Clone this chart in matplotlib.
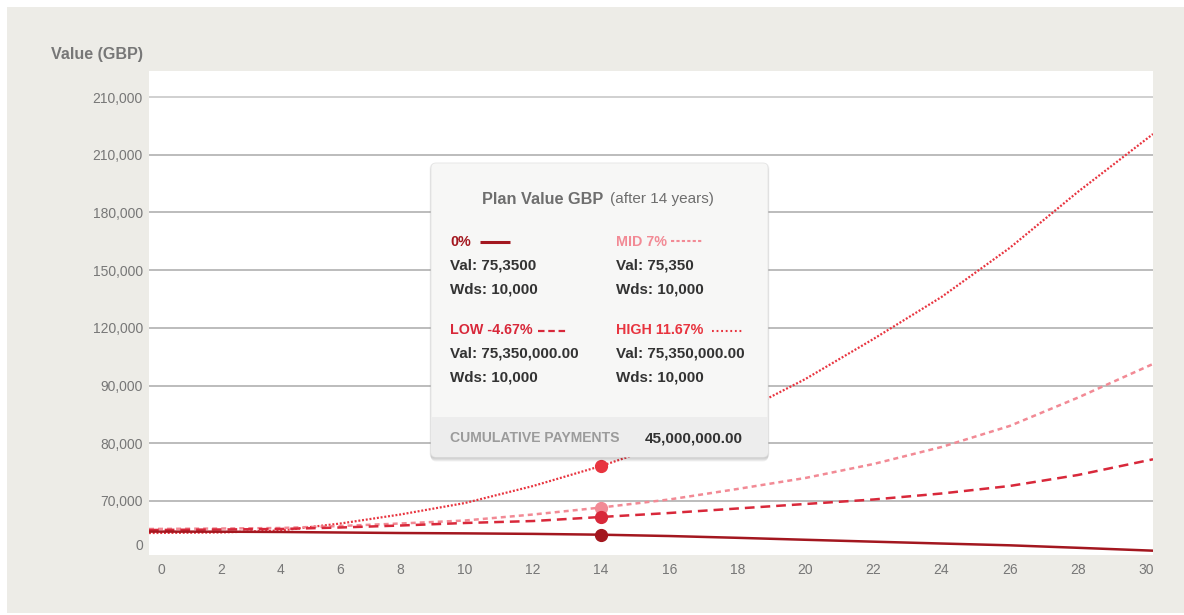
import numpy as np
import matplotlib
matplotlib.use("Agg")
import matplotlib.pyplot as plt
from matplotlib.patches import FancyBboxPatch, Rectangle
from matplotlib.lines import Line2D
from matplotlib.transforms import Affine2D, ScaledTranslation
from matplotlib.scale import FuncScale

# ---------------- data ----------------
years = [0, 2, 4, 6, 8, 10, 12, 14, 16, 18, 20, 22, 24, 26, 28, 30]
zero_pct = [64700, 64680, 64630, 64540, 64450, 64390, 64300, 64160,
            63930, 63620, 63280, 62950, 62630, 62320, 61890, 61390]
low_pct = [64970, 65060, 65150, 65410, 65750, 66190, 66530, 67230,
           67920, 68700, 69480, 70260, 71300, 72600, 74500, 77230]
mid_pct = [65150, 65230, 65320, 65670, 66100, 66620, 67660, 68870,
           70260, 72080, 73990, 76410, 79360, 83000, 87900, 93750]
high_pct = [64450, 64540, 64890, 66100, 67660, 69650, 72600, 76070,
            80050, 85080, 91140, 98080, 105360, 113850, 123550, 133600]
hover_year = 14

ytick_vals = [62400, 70000, 80000, 90000, 100000, 110000, 120000, 130000, 140000]
ytick_labels = ["0", "70,000", "80,000", "90,000", "120,000", "150,000",
                "180,000", "210,000", "210,000"]
xtick_vals = list(range(0, 31, 2))

# ---------------- style ----------------
W, H = 1184, 615
plt.rcParams["font.family"] = ["Liberation Sans", "DejaVu Sans"]
plt.rcParams["lines.scale_dashes"] = False

C_ZERO = "#a3171f"
C_LOW = "#d8283a"
C_MID = "#f28a95"
C_HIGH = "#e8343f"
C_TICK = "#777777"
C_GRID = "#aaaaaa"

fig = plt.figure(figsize=(W / 100, H / 100), dpi=100, facecolor="white")
pxT = Affine2D().scale(1.0 / W, -1.0 / H).translate(0, 1) + fig.transFigure

# outer grey panel
fig.add_artist(Rectangle((7, 7), W - 7, 606, transform=pxT,
                         facecolor="#edece7", edgecolor="none", zorder=-10))

# axes placement (pixels)
L, R, T, B = 149, 1153, 71, 555
ax = fig.add_axes([L / W, (H - B) / H, (R - L) / W, (B - T) / H])
ax.set_facecolor("white")

# piecewise x scale matching the reference's uneven year spacing
kx = np.array([0, 2, 8, 10, 28, 30], float)
kp = np.array([149, 221, 400.3, 465, 1077.7, 1153], float)


def _pw(x, xs, ys):
    x = np.asarray(x, float)
    y = np.interp(x, xs, ys)
    y = np.where(x < xs[0], ys[0] + (x - xs[0]) * (ys[1] - ys[0]) / (xs[1] - xs[0]), y)
    y = np.where(x > xs[-1], ys[-1] + (x - xs[-1]) * (ys[-1] - ys[-2]) / (xs[-1] - xs[-2]), y)
    return y


ax.set_xscale(FuncScale(ax, (lambda x: _pw(x, kx, kp), lambda p: _pw(p, kp, kx))))
ax.set_xlim(0, 30)
ax.set_ylim(60641, 144523)

for s in ax.spines.values():
    s.set_visible(False)

ax.set_yticks(ytick_vals)
ax.set_yticklabels(ytick_labels)
ax.set_xticks(xtick_vals)
ax.set_xticklabels([str(v) for v in xtick_vals])
ax.tick_params(axis="both", length=0, colors=C_TICK, labelsize=10)
ax.tick_params(axis="y", pad=4.5)
ax.tick_params(axis="x", pad=6)

ax.yaxis.grid(True, color=C_GRID, linewidth=1.1)
ax.set_axisbelow(True)
gl = ax.get_ygridlines()
gl[0].set_visible(False)
gl[-1].set_color("#c4c4c4")

xl = ax.get_xticklabels()
xl[0].set_transform(xl[0].get_transform() + ScaledTranslation(0.12, 0, fig.dpi_scale_trans))
xl[-1].set_transform(xl[-1].get_transform() + ScaledTranslation(-0.07, 0, fig.dpi_scale_trans))

# series
ax.plot(years, high_pct, color=C_HIGH, lw=1.6, linestyle=(0, (1.4, 1.3)), zorder=3)
ax.plot(years, mid_pct, color=C_MID, lw=1.8, linestyle=(0, (3.6, 2.9)), zorder=3)
ax.plot(years, low_pct, color=C_LOW, lw=1.8, linestyle=(0, (7.0, 4.3)), zorder=3)
ax.plot(years, zero_pct, color=C_ZERO, lw=1.8, linestyle="-", zorder=4)

i = years.index(hover_year)
for arr, c in [(high_pct, C_HIGH), (mid_pct, C_MID), (low_pct, C_LOW), (zero_pct, C_ZERO)]:
    ax.plot([years[i]], [arr[i]], "o", color=c, ms=8.5, mec=c, zorder=6)

# y axis title
fig.text(143, 55, "Value (GBP)", transform=pxT, ha="right", va="center",
         fontsize=11.6, fontweight="bold", color="#777777")

# ---------------- tooltip ----------------
bx0, by0, bw, bh = 431, 163, 337, 294
for k, a in enumerate([0.04, 0.05, 0.06, 0.05]):
    fig.add_artist(FancyBboxPatch((bx0 - 1.5 + k * 0.5, by0 + 0.5 + k), bw + 3 - k, bh + 1,
                                  boxstyle="round,pad=0,rounding_size=5", transform=pxT,
                                  facecolor=(0, 0, 0, a), edgecolor="none", zorder=20))
fig.add_artist(FancyBboxPatch((bx0, by0), bw, bh, boxstyle="round,pad=0,rounding_size=5",
                              transform=pxT, facecolor="#f7f7f6", edgecolor="#e4e4e4",
                              linewidth=0.6, zorder=21))
fig.add_artist(FancyBboxPatch((bx0 + 0.5, 417), bw - 1, bh - (417 - by0) - 0.5,
                              boxstyle="round,pad=0,rounding_size=4", transform=pxT,
                              facecolor="#ededed", edgecolor="none", zorder=22))
fig.add_artist(Rectangle((bx0 + 0.5, 417), bw - 1, 8, transform=pxT,
                         facecolor="#ededed", edgecolor="none", zorder=22))


def ttext(x, y, s, color="#333333", size=10.9, weight="bold", ha="left"):
    fig.text(x, y, s, transform=pxT, ha=ha, va="center", fontsize=size,
             fontweight=weight, color=color, zorder=30)


ttext(481.5, 199, "Plan Value GBP", color="#6e6e6e", size=11.7)
ttext(609.5, 199.5, "(after 14 years)", color="#6e6e6e", size=11, weight="normal")

c1, c2 = 450.5, 615.5
LBL = 10.3
ttext(c1, 241.5, "0%", color=C_ZERO, size=LBL)
ttext(c2, 241.5, "MID 7%", color=C_MID, size=LBL)
ttext(c1, 266, "Val: 75,3500")
ttext(c2, 266, "Val: 75,350")
ttext(c1, 289, "Wds: 10,000")
ttext(c2, 289, "Wds: 10,000")

ttext(c1, 330.5, "LOW -4.67%", color=C_LOW, size=LBL)
ttext(c2, 330.5, "HIGH 11.67%", color=C_HIGH, size=LBL)
ttext(c1, 353.5, "Val: 75,350,000.00")
ttext(c2, 353.5, "Val: 75,350,000.00")
ttext(c1, 377, "Wds: 10,000")
ttext(c2, 377, "Wds: 10,000")

ttext(450.5, 438.5, "CUMULATIVE PAYMENTS", color="#9b9b9b", size=10.1)
ttext(644.5, 438.5, "45,000,000.00", size=11)

# legend samples inside tooltip
fig.add_artist(Line2D([479.5, 510], [241.5, 241.5], transform=pxT, color=C_ZERO,
                      lw=2.2, solid_capstyle="butt", zorder=30))
fig.add_artist(Line2D([671, 702], [240.5, 240.5], transform=pxT, color=C_MID,
                      lw=1.5, linestyle=(0, (2.3, 1.6)), zorder=30))
fig.add_artist(Line2D([537.5, 567], [330.5, 330.5], transform=pxT, color=C_LOW,
                      lw=1.6, linestyle=(0, (4.7, 2.7)), zorder=30))
fig.add_artist(Line2D([711.5, 742], [330.5, 330.5], transform=pxT, color=C_HIGH,
                      lw=1.5, linestyle=(0, (1.3, 2.0)), zorder=30))

fig.savefig("out.png", dpi=100, facecolor="white")
